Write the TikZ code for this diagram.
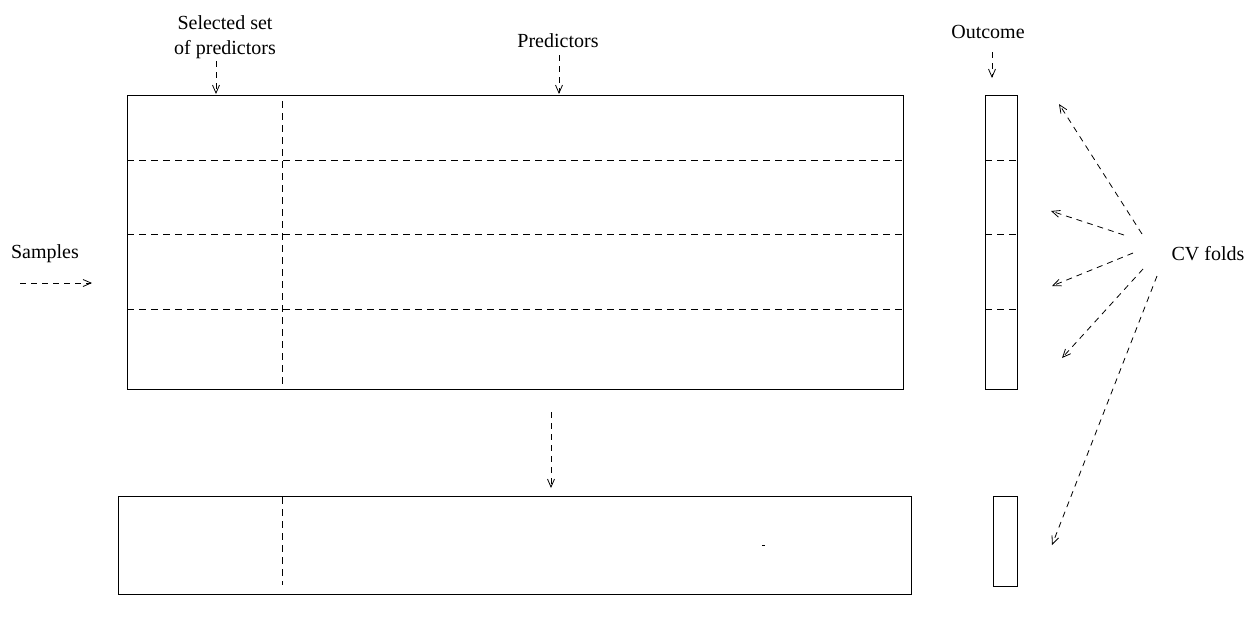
\documentclass[tikz,border=0pt]{standalone}
\usepackage{fontspec}
\setmainfont{Liberation Serif}
\usetikzlibrary{arrows.meta}
\begin{document}
\begin{tikzpicture}[x=0.5pt,y=-0.5pt,
  every node/.style={font=\fontsize{10}{12.5}\selectfont, inner sep=0pt, align=center},
  frame/.style={draw, line width=0.5pt},
  divider/.style={draw, line width=0.5pt, dash pattern=on 3.5pt off 2.5pt},
  pointer/.style={draw, line width=0.4pt, dash pattern=on 3pt off 2.5pt, -{Straight Barb[length=4pt,width=3.5pt]}}]
\useasboundingbox (0,0) rectangle (1259,618);
% main data matrix
\draw[frame] (127,95) rectangle (903,389);
\foreach \yy in {160,234,309} \draw[divider] (127,\yy) -- (903,\yy);
\draw[divider] (282,101) -- (282,389);
% outcome column
\draw[frame] (985,95) rectangle (1017,389);
\foreach \yy in {160,234,309} \draw[divider] (985,\yy) -- (1017,\yy);
% reduced matrix
\draw[frame] (118,496) rectangle (911,594);
\draw[divider] (282,497) -- (282,585);
\draw[line width=0.5pt] (762,545) -- (765,545);
\draw[frame] (993,496) rectangle (1017,586);
% labels
\node (sel) at (225,37) {Selected set\\of predictors};
\node (pred) at (558,41) {Predictors};
\node (out) at (988,32) {Outcome};
\node (samp) at (45,254) {Samples};
\node (cv) at (1208,254) {CV folds};
% arrow coordinates
\coordinate (s1) at (216,61); \coordinate (s2) at (216,94);
\coordinate (p1) at (559,55); \coordinate (p2) at (559,94);
\coordinate (o1) at (992,52); \coordinate (o2) at (992,78);
\coordinate (a1) at (20,283); \coordinate (a2) at (92,283);
\coordinate (d1) at (551,412); \coordinate (d2) at (551,488);
\coordinate (c1t) at (1142,234); \coordinate (c1h) at (1059,104);
\coordinate (c2t) at (1124,235); \coordinate (c2h) at (1051,211);
\coordinate (c3t) at (1133,253); \coordinate (c3h) at (1052,286);
\coordinate (c4t) at (1143,269); \coordinate (c4h) at (1062,358);
\coordinate (c5t) at (1157,276); \coordinate (c5h) at (1052,545);
\draw[pointer] (s1) -- (s2);
\draw[pointer] (p1) -- (p2);
\draw[pointer] (o1) -- (o2);
\draw[pointer] (a1) -- (a2);
\draw[pointer] (d1) -- (d2);
\draw[pointer] (c1t) -- (c1h);
\draw[pointer] (c2t) -- (c2h);
\draw[pointer] (c3t) -- (c3h);
\draw[pointer] (c4t) -- (c4h);
\draw[pointer] (c5t) -- (c5h);
\end{tikzpicture}
\end{document}
